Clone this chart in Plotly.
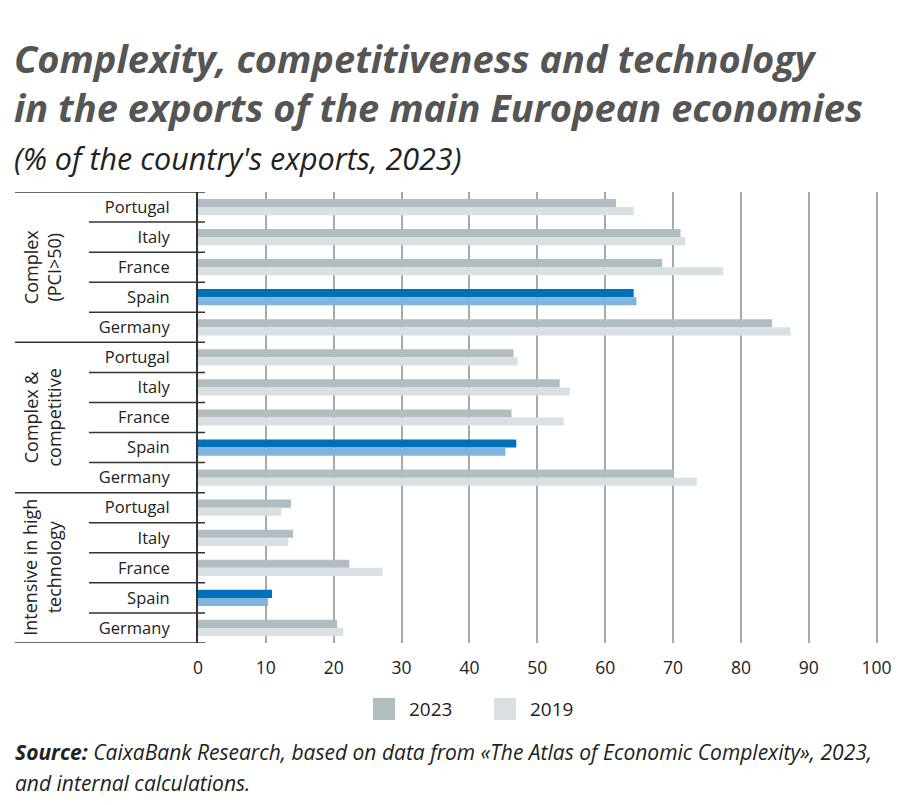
import plotly.graph_objects as go

countries = ["Portugal", "Italy", "France", "Spain", "Germany"]
groups = ["Complex<br>(PCI>50)", "Complex &<br>competitive", "Intensive in high<br>technology"]
years = ["2023", "2019"]

complex_2023 = [61.6, 71.1, 68.4, 64.2, 84.6]
complex_2019 = [64.2, 71.8, 77.4, 64.6, 87.3]
competitive_2023 = [46.5, 53.3, 46.2, 46.9, 70.1]
competitive_2019 = [47.1, 54.8, 53.9, 45.3, 73.5]
hightech_2023 = [13.7, 14.0, 22.3, 10.9, 20.5]
hightech_2019 = [12.3, 13.3, 27.2, 10.3, 21.4]

x_ticks = [0, 10, 20, 30, 40, 50, 60, 70, 80, 90, 100]

# colours
grey_23, grey_19 = "#b1bdc1", "#d9dfe2"
blue_23, blue_19 = "#0071b9", "#7fb5dc"

vals_2023 = complex_2023 + competitive_2023 + hightech_2023
vals_2019 = complex_2019 + competitive_2019 + hightech_2019
labels = countries * len(groups)
ypos = list(range(len(labels)))
col_23 = [blue_23 if c == "Spain" else grey_23 for c in labels]
col_19 = [blue_19 if c == "Spain" else grey_19 for c in labels]

# page body has an 8px margin, so the figure is a bit smaller than the window
OFF = 8
W, H = 892, 797
L, R, T, B = 190, 20, 184, 162
pw, ph = W - L - R, H - T - B


def px(x):
    # screen x -> paper
    return (x - OFF - L) / pw


def py(y):
    # screen y -> paper
    return (H - B - (y - OFF)) / ph


fig = go.Figure()
fig.add_trace(go.Bar(y=ypos, x=vals_2023, orientation="h", name=years[0],
                     marker=dict(color=col_23, line=dict(width=0)), showlegend=False))
fig.add_trace(go.Bar(y=ypos, x=vals_2019, orientation="h", name=years[1],
                     marker=dict(color=col_19, line=dict(width=0)), showlegend=False))

shapes = []
# separators between countries / groups
for i in range(len(labels) + 1):
    x0 = 15 if i % 5 == 0 else 89
    shapes.append(dict(type="line", xref="paper", yref="y", x0=px(x0), x1=px(205),
                       y0=i - 0.5, y1=i - 0.5, line=dict(color="#333", width=1.5), layer="above"))

annotations = []
for g, name in enumerate(groups):
    annotations.append(dict(text=name, xref="paper", yref="y", x=px(42), y=g * 5 + 2,
                            textangle=-90, showarrow=False, xanchor="center", yanchor="middle",
                            font=dict(size=18, color="#222")))

# legend drawn by hand
for k, (yr, c) in enumerate(zip(years, [grey_23, grey_19])):
    cx = 384 + k * 121
    shapes.append(dict(type="rect", xref="paper", yref="paper", x0=px(cx - 11), x1=px(cx + 11),
                       y0=py(720), y1=py(698), fillcolor=c, line=dict(width=0)))
    annotations.append(dict(text=yr, xref="paper", yref="paper", x=px(cx + 23), y=py(709),
                            xanchor="left", yanchor="middle", showarrow=False,
                            font=dict(size=19, color="#222")))

tf = "Open Sans"
annotations.append(dict(text="<b><i>Complexity, competitiveness and technology<br>"
                             "in the exports of the main European economies</i></b>",
                        xref="paper", yref="paper", x=px(12), y=py(82), xanchor="left",
                        yanchor="middle", align="left", showarrow=False,
                        font=dict(family=tf, size=38, color="#555555")))
annotations.append(dict(text="<i>(% of the country's exports, 2023)</i>",
                        xref="paper", yref="paper", x=px(12), y=py(158), xanchor="left", yanchor="middle",
                        showarrow=False, font=dict(family=tf, size=30.5, color="#222")))
source_lines = ["<b><i>Source:</i></b><i> CaixaBank Research, based on data from «The Atlas of Economic Complexity», 2023,</i>",
                "<i>and internal calculations.</i>"]
for j, line in enumerate(source_lines):
    annotations.append(dict(text=line, xref="paper", yref="paper", x=px(13), y=py(752 + 31 * j),
                            xanchor="left", yanchor="middle", showarrow=False,
                            font=dict(family=tf, size=21, color="#222")))

fig.update_layout(
    width=W, height=H, margin=dict(l=L, r=R, t=T, b=B, autoexpand=False),
    plot_bgcolor="white", paper_bgcolor="white",
    barmode="group", bargap=0.46, bargroupgap=0,
    font=dict(family="Open Sans, Noto Sans", size=16, color="#222"),
    shapes=shapes, annotations=annotations, showlegend=False,
)
fig.update_xaxes(range=[0, 100.5], tickvals=x_ticks, showgrid=True, gridcolor="#a8a8a8",
                 gridwidth=1.5, zeroline=False, showline=False, ticks="", automargin=False,
                 ticklabelstandoff=12, tickfont=dict(size=17.5, color="#222"))
fig.update_yaxes(range=[len(labels) - 0.5, -0.5], tickvals=ypos, ticktext=labels,
                 showgrid=False, zeroline=False, showline=True, linecolor="#333", linewidth=2,
                 ticks="", ticklabelstandoff=23, automargin=False,
                 tickfont=dict(size=16.5, color="#222"))

fig.write_html("out.html")
